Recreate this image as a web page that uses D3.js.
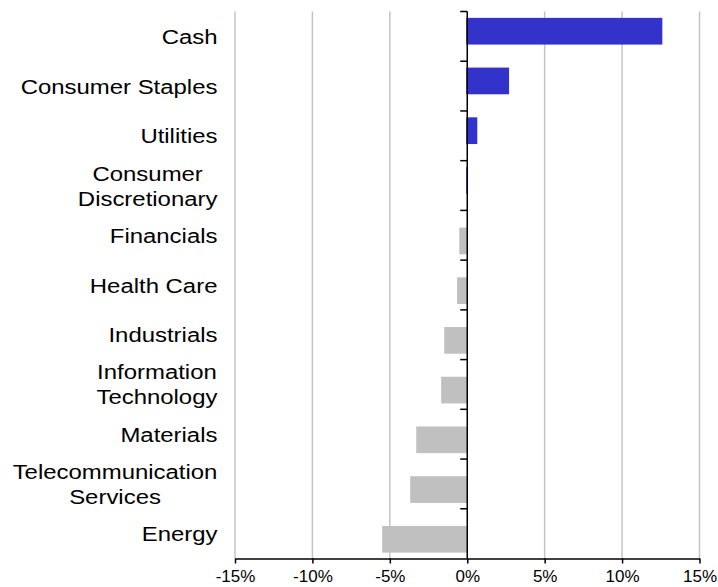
<!DOCTYPE html>
<html>
<head>
<meta charset="utf-8">
<script src="https://cdn.jsdelivr.net/npm/d3@7"></script>
<style>
  body { margin: 0; background: #fff; }
  svg text { font-family: "Liberation Sans", Arial, sans-serif; fill: #000; }
</style>
</head>
<body>
<div id="vis"></div>
<script>
var categories = ["Cash", "Consumer Staples", "Utilities", "Consumer Discretionary",
                  "Financials", "Health Care", "Industrials", "Information Technology",
                  "Materials", "Telecommunication Services", "Energy"];
// label lines as drawn in the chart
var labelLines = [["Cash"], ["Consumer Staples"], ["Utilities"], ["Consumer", "Discretionary"],
                  ["Financials"], ["Health Care"], ["Industrials"], ["Information", "Technology"],
                  ["Materials"], ["Telecommunication", "Services"], ["Energy"]];
// relative weight, %
var values = [12.6, 2.7, 0.65, 0.05, -0.45, -0.6, -1.42, -1.62, -3.23, -3.62, -5.43];
var xTicks = [-15, -10, -5, 0, 5, 10, 15];

var w = 718, h = 587;
var margin = {top: 11.5, right: 18.5, bottom: 28.5, left: 235};

var x = d3.scaleLinear()
    .domain([-15, 15])
    .range([margin.left, w - margin.right]);

var y = d3.scaleBand()
    .domain(categories)
    .range([margin.top, h - margin.bottom]);

var bw = y.bandwidth(),
    barH = bw * 0.537,
    posOffset = bw * 0.128,   // overweight series slot
    negOffset = bw * 0.345;   // underweight series slot

var svg = d3.select("#vis").append("svg")
    .attr("width", w)
    .attr("height", h);

// gridlines
svg.append("g")
  .selectAll("line")
  .data(xTicks.filter(function(d) { return d != 0; }))
  .enter().append("line")
    .attr("x1", function(d) { return x(d); })
    .attr("x2", function(d) { return x(d); })
    .attr("y1", margin.top)
    .attr("y2", h - margin.bottom)
    .style("stroke", "#c4c4c4")
    .style("stroke-width", 1.5);

// bars
svg.append("g")
  .selectAll("rect")
  .data(categories)
  .enter().append("rect")
    .attr("x", function(d, i) { return Math.min(x(0), x(values[i])) - 1; })
    .attr("y", function(d, i) { return y(d) + (values[i] >= 0 ? posOffset : negOffset); })
    .attr("width", function(d, i) { return Math.abs(x(values[i]) - x(0)) + 1; })
    .attr("height", barH)
    .style("fill", function(d, i) { return values[i] >= 0 ? "#3333cc" : "#c0c0c0"; });

// x axis
var xAxis = svg.append("g")
    .attr("transform", "translate(0," + (h - margin.bottom) + ")")
    .call(d3.axisBottom(x)
      .tickValues(xTicks)
      .tickSize(5)
      .tickSizeOuter(0)
      .tickFormat(function(d) { return d + "%"; }));

xAxis.select(".domain").style("stroke", "#000").style("stroke-width", 1.5);
xAxis.selectAll(".tick line").style("stroke", "#000").style("stroke-width", 1.5);
xAxis.selectAll(".tick text")
    .attr("y", 11)
    .style("font-size", "17px")
    .style("font-family", "'Liberation Sans', Arial, sans-serif");

// y axis at zero
svg.append("line")
    .attr("x1", x(0)).attr("x2", x(0))
    .attr("y1", margin.top).attr("y2", h - margin.bottom)
    .style("stroke", "#000")
    .style("stroke-width", 1.5);

var bounds = categories.map(function(d) { return y(d); });
svg.append("g")
  .selectAll("line")
  .data(bounds)
  .enter().append("line")
    .attr("x1", x(0) - 7).attr("x2", x(0))
    .attr("y1", function(d) { return d; })
    .attr("y2", function(d) { return d; })
    .style("stroke", "#000")
    .style("stroke-width", 1.5);

// category labels
var lineH = 25, stretch = 1.14, labelRight = 217.5;
categories.forEach(function(c, i) {
  var lines = labelLines[i];
  var cy = y(c) + bw / 2;
  var t = svg.append("text")
      .style("font-size", "21px")
      .attr("text-anchor", "middle");
  t.selectAll("tspan")
    .data(lines)
    .enter().append("tspan")
      .attr("x", 0)
      .attr("y", function(d, j) { return (j - (lines.length - 1) / 2) * lineH + 7.5; })
      .text(function(d) { return d; });
  var maxW = 0;
  t.selectAll("tspan").each(function() {
    maxW = Math.max(maxW, this.getComputedTextLength());
  });
  t.attr("transform", "translate(" + (labelRight - maxW * stretch / 2) + "," + cy + ") scale(" + stretch + ",1)");
});
</script>
</body>
</html>
